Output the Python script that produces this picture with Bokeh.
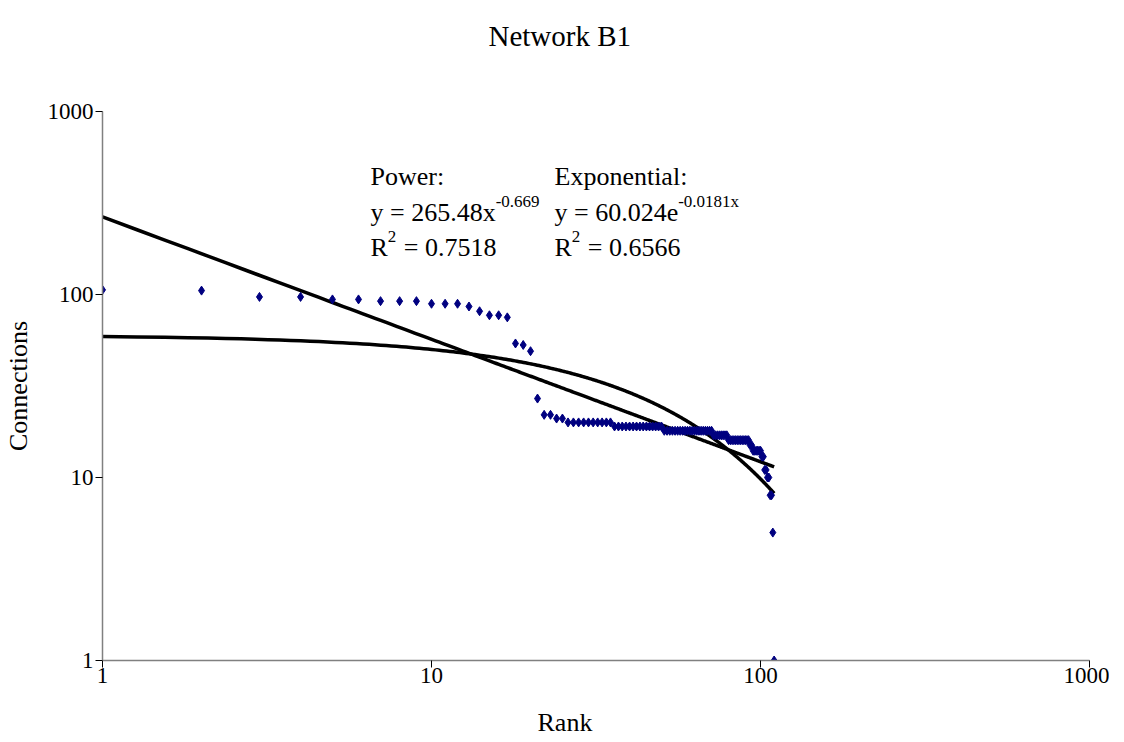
import numpy as np
from bokeh.plotting import figure
from bokeh.models import Label, FixedTicker, Range1d, Title
from bokeh.embed import file_html
from bokeh.resources import INLINE

# ---------------- data ----------------
rank = list(range(1, 111))
connections = [
    106, 105, 97, 97, 94, 94, 92, 92, 92, 89,
    89, 89, 86, 81, 77, 77, 75, 54, 53, 49,
    27, 22, 22, 21, 21,
    20, 20, 20, 20, 20, 20, 20, 20, 20, 20,
    19, 19, 19, 19, 19, 19, 19, 19, 19, 19, 19, 19, 19, 19, 19,
    18, 18, 18, 18, 18, 18, 18, 18, 18, 18, 18, 18, 18, 18, 18, 18, 18, 18, 18, 18, 18,
    17, 17, 17, 17, 17, 17, 17, 17,
    16, 16, 16, 16, 16, 16, 16, 16, 16, 16, 16, 16, 16,
    15, 15,
    14, 14, 14, 14, 14, 14,
    13, 13,
    11, 11,
    10, 10,
    8, 8,
    5,
    1,
]
x_ticks = [1, 10, 100, 1000]
y_ticks = [1, 10, 100, 1000]
power_coef, power_exp = 265.48, -0.669
exp_coef, exp_rate = 60.024, -0.0181
title_text = "Network B1"
x_label = "Rank"
y_label = "Connections"
power_lines = ["Power:", "y = 265.48x", "-0.669", "0.7518"]
exp_lines = ["Exponential:", "y = 60.024e", "-0.0181x", "0.6566"]

# ---------------- figure ----------------
SERIF = "Liberation Serif"
p = figure(frame_width=987, frame_height=549, x_axis_type="log", y_axis_type="log",
           x_range=Range1d(1, 1000), y_range=Range1d(1, 1000),
           output_backend="svg", toolbar_location=None,
           min_border_left=100, min_border_right=20,
           min_border_top=111, min_border_bottom=82)
p.outline_line_color = None
p.xgrid.visible = False
p.ygrid.visible = False
p.background_fill_color = "white"
p.border_fill_color = "white"

for ax, ticks in ((p.xaxis, x_ticks), (p.yaxis, y_ticks)):
    ax.ticker = FixedTicker(ticks=ticks)
    ax.minor_tick_line_color = None
    ax.major_tick_in = 0
    ax.major_tick_out = 7
    ax.major_tick_line_color = "black"
    ax.axis_line_color = "#808080"
    ax.axis_line_width = 1.5
    ax.major_label_text_font = SERIF
    ax.major_label_text_font_size = "23px"
    ax.major_label_text_color = "black"
    ax.axis_label_text_font = SERIF
    ax.axis_label_text_font_size = "26px"
    ax.axis_label_text_font_style = "normal"
    ax.axis_label_text_color = "black"

p.yaxis.axis_label = y_label
p.xaxis.major_label_standoff = 0
p.yaxis.major_label_standoff = 2
p.yaxis.axis_label_standoff = 12
p.xaxis.major_label_overrides = {t: str(t) for t in x_ticks}
p.yaxis.major_label_overrides = {t: str(t) for t in y_ticks}

# x-axis title: a thin blank spacer under the axis, then the text
p.add_layout(Title(text=" ", text_font_size="3px"), "below")
p.add_layout(Title(text=x_label, align="left", offset=435, text_font=SERIF,
                   text_font_size="26px", text_font_style="normal",
                   text_color="black"), "below")

# chart title, with a blank spacer between it and the frame
p.add_layout(Title(text=" ", text_font_size="39px"), "above")
p.add_layout(Title(text=title_text, align="left", offset=386, text_font=SERIF,
                   text_font_size="29px", text_font_style="normal",
                   text_color="black"), "above")

# trendlines
xs = np.linspace(rank[0], rank[-1], 400)
p.line(xs, power_coef * xs ** power_exp, line_color="black", line_width=3.5)
p.line(xs, exp_coef * np.exp(exp_rate * xs), line_color="black", line_width=3.5)

# data points
p.scatter(rank, connections, marker="diamond", size=9, color="#000080")

# ---------------- equation texts ----------------
W = {"0": .5, "1": .5, "2": .5, "3": .5, "4": .5, "5": .5, "6": .5, "7": .5,
     "8": .5, "9": .5, ".": .25, " ": .25, "=": .564, "y": .5, "x": .5,
     "e": .444, "R": .667, "-": .333}

def text_width(s, size):
    return sum(W.get(c, .5) for c in s) * size

def run(x, y, parts):
    for txt, size, rise in parts:
        if txt.strip():
            p.add_layout(Label(x=x, y=y + rise, x_units="screen", y_units="screen",
                               text=txt, text_font=SERIF, text_font_size=f"{size}px",
                               text_align="left", text_baseline="alphabetic",
                               text_color="black"))
        x += text_width(txt, size) + (1 if size < 20 else 0)

F, S, RISE = 26, 17, 11
LINE1, LINE2, LINE3 = 484.5, 448.5, 413.5
for left, lines in ((268, power_lines), (452, exp_lines)):
    run(left, LINE1, [(lines[0], F, 0)])
    run(left, LINE2, [(lines[1], F, 0), (lines[2], S, RISE)])
    run(left, LINE3, [("R", F, 0), ("2", S, RISE), (" ", F, 0), ("= " + lines[3], F, 0)])

open("out.html", "w").write(file_html(p, INLINE))
